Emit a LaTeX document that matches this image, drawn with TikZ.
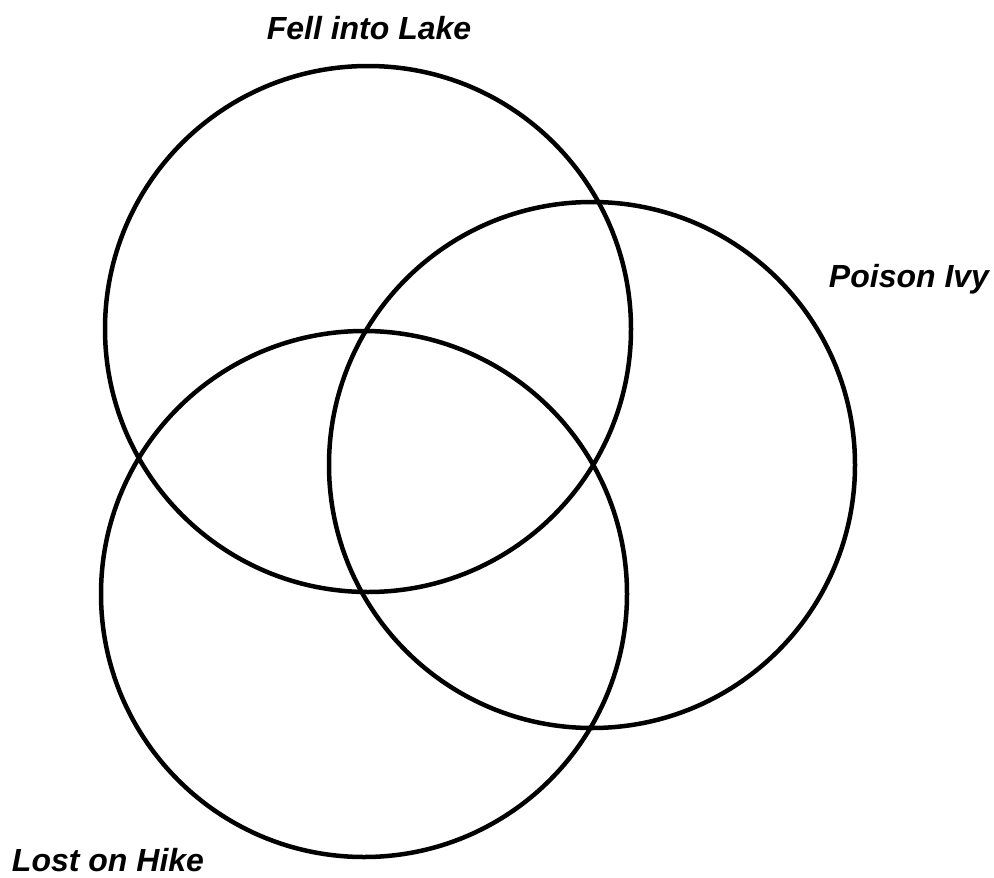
\documentclass[tikz,border=0pt]{standalone}
\usepackage{fontspec}
\setmainfont{Liberation Sans}

\tikzset{
  ring/.style={draw, circle, line width=4.5pt, minimum size=526pt, inner sep=0pt},
  setlabel/.style={anchor=base, font=\fontsize{32}{36}\selectfont\bfseries\itshape}
}

\begin{document}
\begin{tikzpicture}[x=1pt, y=-1pt]
\useasboundingbox (0,0) rectangle (994,878);

% Trzy okregi diagramu
\node[ring] (lake) at (368,329) {};
\node[ring] (ivy) at (592,465) {};
\node[ring] (hike) at (364,594) {};

% Etykiety zbiorow
\node[setlabel] (lakelabel) at (369,39) {Fell into Lake};
\node[setlabel] (ivylabel) at (909,287) {Poison Ivy};
\node[setlabel] (hikelabel) at (108,871) {Lost on Hike};
\end{tikzpicture}
\end{document}
